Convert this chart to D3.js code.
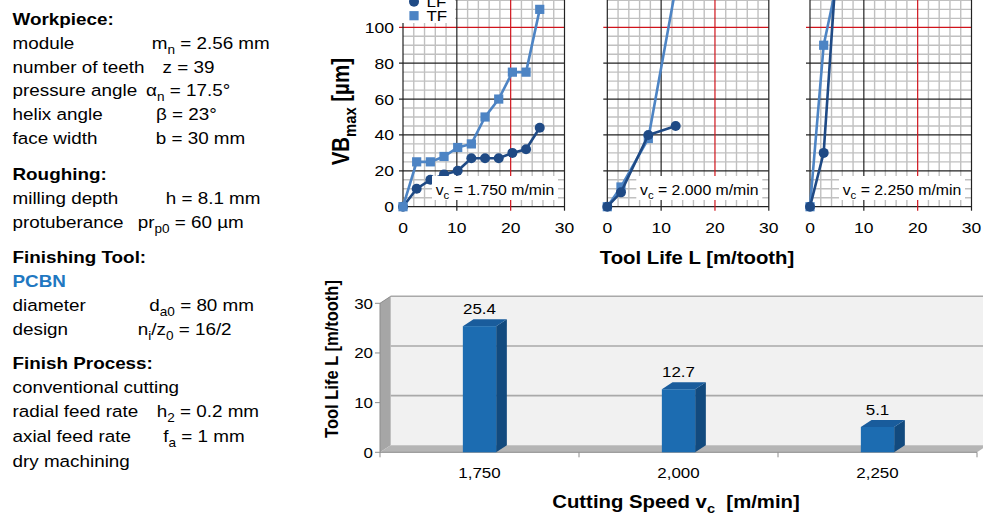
<!DOCTYPE html>
<html>
<head>
<meta charset="utf-8">
<script src="https://cdn.jsdelivr.net/npm/d3@7"></script>
<style>
  body { margin: 0; background: #fff; }
  svg { display: block; font-family: Arial, "Liberation Sans", sans-serif; }
  text { white-space: pre; }
</style>
</head>
<body>
<svg id="chart" width="983" height="515"></svg>
<script>
// wear curves, tool path L [m/tooth] vs. VB_max [um]
var x1750 = [0, 2.54, 5.08, 7.62, 10.16, 12.7, 15.24, 17.78, 20.32, 22.86, 25.4];
var lf1750 = [0, 10, 15, 18, 20, 27, 27, 27, 30, 32, 44];
var tf1750 = [0, 25, 25, 28, 33, 35, 50, 60, 75, 75, 110];

var x2000 = [0, 2.54, 7.62, 12.7];
var lf2000 = [0, 8, 40, 45];
var tf2000 = [0, 11, 38, 122];

var x2250 = [0, 2.54, 5.08];
var lf2250 = [0, 30, 142];
var tf2250 = [0, 90, 126];

var speedNames = ["1.750", "2.000", "2.250"];
var xTicks = [0, 10, 20, 30];
var yTicks = [0, 20, 40, 60, 80, 100];

// tool life bar chart
var speeds = ["1,750", "2,000", "2,250"];
var toolLife = [25.4, 12.7, 5.1];
var lifeTicks = [0, 10, 20, 30];

var LF_COL = "#1f4a85", TF_COL = "#4d84c4";
var SX = 1.13; // text in the picture is a bit wider than tall

var svg = d3.select("#chart");

function addText(g, x, y, parts, size, opt) {
  opt = opt || {};
  var t = g.append("text")
    .attr("transform", "translate(" + x + "," + y + ") scale(" + SX + ",1)" + (opt.rot ? " rotate(-90)" : ""))
    .attr("font-size", size)
    .attr("font-weight", opt.bold ? "bold" : "normal")
    .attr("text-anchor", opt.anchor || "start")
    .attr("fill", opt.fill || "#000");
  var shift = Math.round(size * 0.28), down = false;
  [].concat(parts).forEach(function(p) {
    var sub = p.charAt(0) === "_";
    var s = t.append("tspan").text(sub ? p.slice(1) : p);
    if (sub) {
      s.attr("font-size", size * 0.72);
      if (!down) { s.attr("dy", shift); down = true; }
    } else if (down) {
      s.attr("dy", -shift); down = false;
    }
  });
  return t;
}

//////////////////////////////////////////////////////////////////////////////
// left text block

var info = svg.append("g");
var FS = 16.7;
function row(y, name, val, vx) {
  addText(info, 12.5, y, name, FS);
  if (val) addText(info, vx, y, val, FS);
}
addText(info, 12.5, 24.5, "Workpiece:", FS, {bold: true});
row(49, "module", ["m", "_n", " = 2.56 mm"], 151.7);
row(72.8, "number of teeth", "z = 39", 162.5);
row(96.3, "pressure angle", ["\u03b1", "_n", " = 17.5\u00b0"], 146);
row(120, "helix angle", "\u03b2 = 23\u00b0", 156);
row(143.5, "face width", "b = 30 mm", 155.7);
addText(info, 12.5, 180, "Roughing:", FS, {bold: true});
row(204, "milling depth", "h = 8.1 mm", 165.7);
row(227.5, "protuberance", ["pr", "_p0", " = 60 \u00b5m"], 137.7);
addText(info, 12.5, 263.3, "Finishing Tool:", FS, {bold: true});
addText(info, 12.5, 287.3, "PCBN", FS, {bold: true, fill: "#1f78c1"});
row(311, "diameter", ["d", "_a0", " = 80 mm"], 149.3);
row(334.5, "design", ["n", "_i", "/z", "_0", " = 16/2"], 137.7);
addText(info, 12.5, 368.5, "Finish Process:", FS, {bold: true});
row(393, "conventional cutting");
row(417, "radial feed rate", ["h", "_2", " = 0.2 mm"], 156.7);
row(441.5, "axial feed rate", ["f", "_a", " = 1 mm"], 163.3);
row(466.5, "dry machining");

//////////////////////////////////////////////////////////////////////////////
// three wear panels

var panels = [
  {x: x1750, lf: lf1750, tf: tf1750, tfTop: true},
  {x: x2000, lf: lf2000, tf: tf2000, tfTop: false},
  {x: x2250, lf: lf2250, tf: tf2250, tfTop: false}
];
var panelLeft = [403, 607.3, 810], panelW = 161.5;

var yScale = d3.scaleLinear().domain([0, 100]).range([206.7, 27.3]);
var yTop = yScale(125);

panels.forEach(function(p, i) {
  var xScale = d3.scaleLinear().domain([0, 30]).range([panelLeft[i], panelLeft[i] + panelW]);
  var g = svg.append("g");

  g.append("rect")
    .attr("x", xScale(0)).attr("y", yTop)
    .attr("width", xScale(30) - xScale(0)).attr("height", yScale(0) - yTop)
    .attr("fill", "#fff");

  // minor grid
  g.selectAll(".vmin").data(d3.range(2, 30, 2).filter(function(v) { return v % 10 != 0; }))
    .enter().append("line")
    .attr("x1", function(d) { return xScale(d); }).attr("x2", function(d) { return xScale(d); })
    .attr("y1", yTop).attr("y2", yScale(0))
    .attr("stroke", "#c0c0c0").attr("stroke-width", 1.4);
  g.selectAll(".hmin").data(d3.range(5, 125, 5).filter(function(v) { return v % 20 != 0; }))
    .enter().append("line")
    .attr("y1", function(d) { return yScale(d); }).attr("y2", function(d) { return yScale(d); })
    .attr("x1", xScale(0)).attr("x2", xScale(30))
    .attr("stroke", "#c0c0c0").attr("stroke-width", 1.4);

  // major grid, red limits
  g.selectAll(".hmaj").data(d3.range(0, 125, 20))
    .enter().append("line")
    .attr("y1", function(d) { return yScale(d); }).attr("y2", function(d) { return yScale(d); })
    .attr("x1", xScale(0) - 4).attr("x2", xScale(30))
    .attr("stroke", function(d) { return d == 100 ? "#d0141c" : "#222"; })
    .attr("stroke-width", 1.2);
  g.selectAll(".vmaj").data(xTicks)
    .enter().append("line")
    .attr("x1", function(d) { return xScale(d); }).attr("x2", function(d) { return xScale(d); })
    .attr("y1", yTop).attr("y2", yScale(0) + 4)
    .attr("stroke", function(d) { return d == 20 ? "#d0141c" : "#222"; })
    .attr("stroke-width", 1.2);

  var line = d3.line()
    .x(function(d, k) { return xScale(p.x[k]); })
    .y(function(d) { return yScale(d); });

  function drawLF() {
    g.append("path").attr("d", line(p.lf)).attr("fill", "none")
      .attr("stroke", LF_COL).attr("stroke-width", 2.6);
    g.selectAll(null).data(p.lf).enter().append("circle")
      .attr("cx", function(d, k) { return xScale(p.x[k]); })
      .attr("cy", function(d) { return yScale(d); })
      .attr("r", 5).attr("fill", LF_COL);
  }
  function drawTF() {
    g.append("path").attr("d", line(p.tf)).attr("fill", "none")
      .attr("stroke", TF_COL).attr("stroke-width", 2.6);
    g.selectAll(null).data(p.tf).enter().append("rect")
      .attr("x", function(d, k) { return xScale(p.x[k]) - 4.6; })
      .attr("y", function(d) { return yScale(d) - 4.6; })
      .attr("width", 9.2).attr("height", 9.2).attr("fill", TF_COL);
  }
  if (p.tfTop) { drawLF(); drawTF(); } else { drawTF(); drawLF(); }

  // speed label
  var cx = xScale(30) - 69.5;
  g.append("rect").attr("x", cx - 63).attr("y", 176).attr("width", 126).attr("height", 24)
    .attr("fill", "#fff");
  addText(g, cx, 194.5, ["v", "_c", " = " + speedNames[i] + " m/min"], 14, {anchor: "middle"});

  xTicks.forEach(function(t) {
    addText(g, xScale(t), 233, String(t), 15.5, {anchor: "middle"});
  });
  if (i == 0) {
    yTicks.forEach(function(t) {
      addText(g, xScale(0) - 9, yScale(t) + 5.5, String(t), 15.5, {anchor: "end"});
    });
    // legend (cut at the top edge, as in the source picture)
    g.append("rect").attr("x", 399).attr("y", -10).attr("width", 56).attr("height", 33).attr("fill", "#fff");
    g.append("circle").attr("cx", 414).attr("cy", 1.7).attr("r", 5).attr("fill", LF_COL);
    addText(g, 426.5, 7, "LF", 15);
    g.append("rect").attr("x", 409.4).attr("y", 11.1).attr("width", 9.2).attr("height", 9.2).attr("fill", TF_COL);
    addText(g, 426.5, 21, "TF", 15);
  }
});

addText(svg, 349, 111.7, ["VB", "_max", " [\u00b5m]"], 20.5, {bold: true, rot: true, anchor: "middle"});
addText(svg, 697, 264, "Tool Life L [m/tooth]", 18, {bold: true, anchor: "middle"});

//////////////////////////////////////////////////////////////////////////////
// tool life bars (3d look)

var DX = 10.7, DY = -7;
var xBar = d3.scaleBand().domain(speeds).range([380, 977]);
var yBar = d3.scaleLinear().domain([0, 30]).range([452.3, 303.3]);
var bw = 33.3;
var bg = svg.append("g");

function poly(pts, fill) {
  bg.append("polygon").attr("points", pts.map(function(q) { return q.join(","); }).join(" ")).attr("fill", fill);
}

// back wall, left wall, floor
bg.append("rect").attr("x", 380 + DX).attr("y", yBar(30) + DY)
  .attr("width", 620).attr("height", yBar(0) - yBar(30)).attr("fill", "#f1f1f1");
bg.selectAll(".wgrid").data(lifeTicks.slice(1))
  .enter().append("line")
  .attr("x1", 380 + DX).attr("x2", 990)
  .attr("y1", function(d) { return yBar(d) + DY; }).attr("y2", function(d) { return yBar(d) + DY; })
  .attr("stroke", "#a9a9a9").attr("stroke-width", 1.6);
poly([[380, yBar(30)], [380 + DX, yBar(30) + DY], [380 + DX, yBar(0) + DY], [380, yBar(0)]], "#a6a6a6");
bg.append("line").attr("x1", 380).attr("y1", yBar(30)).attr("x2", 380 + DX).attr("y2", yBar(30) + DY)
  .attr("stroke", "#8c8c8c").attr("stroke-width", 1);
poly([[380, yBar(0)], [380 + DX, yBar(0) + DY], [977 + DX, yBar(0) + DY], [977, yBar(0)]], "#b5b5b5");

// axes
bg.append("line").attr("x1", 380).attr("x2", 380).attr("y1", yBar(30)).attr("y2", yBar(0))
  .attr("stroke", "#8c8c8c");
bg.append("line").attr("x1", 380).attr("x2", 977).attr("y1", yBar(0)).attr("y2", yBar(0))
  .attr("stroke", "#8c8c8c");
lifeTicks.forEach(function(t) {
  bg.append("line").attr("x1", 375).attr("x2", 380).attr("y1", yBar(t)).attr("y2", yBar(t))
    .attr("stroke", "#8c8c8c");
  addText(bg, 373, yBar(t) + 5.5, String(t), 15, {anchor: "end"});
});
speeds.forEach(function(s) {
  var xb = xBar(s) + xBar.bandwidth();
  bg.append("line").attr("x1", xb).attr("x2", xb).attr("y1", yBar(0)).attr("y2", yBar(0) + 5)
    .attr("stroke", "#8c8c8c");
});
bg.append("line").attr("x1", 380).attr("x2", 380).attr("y1", yBar(0)).attr("y2", yBar(0) + 5)
  .attr("stroke", "#8c8c8c");

// bars
speeds.forEach(function(s, i) {
  var c = xBar(s) + xBar.bandwidth() / 2;
  var x0 = c - bw / 2, x1 = c + bw / 2, yt = yBar(toolLife[i]), yb = yBar(0);
  poly([[x1, yt], [x1 + DX, yt + DY], [x1 + DX, yb + DY], [x1, yb]], "#124a7e");
  poly([[x0, yt], [x0 + DX, yt + DY], [x1 + DX, yt + DY], [x1, yt]], "#195c9c");
  bg.append("rect").attr("x", x0).attr("y", yt).attr("width", bw).attr("height", yb - yt)
    .attr("fill", "#1c6cb1");
  addText(bg, c, yt - 12, String(toolLife[i]), 15, {anchor: "middle"});
  addText(bg, c, 478, s, 15, {anchor: "middle"});
});

addText(svg, 338, 359, "Tool Life L [m/tooth]", 16.5, {bold: true, rot: true, anchor: "middle"});
addText(svg, 676, 508, ["Cutting Speed v", "_c", "  [m/min]"], 18, {bold: true, anchor: "middle"});
</script>
</body>
</html>
